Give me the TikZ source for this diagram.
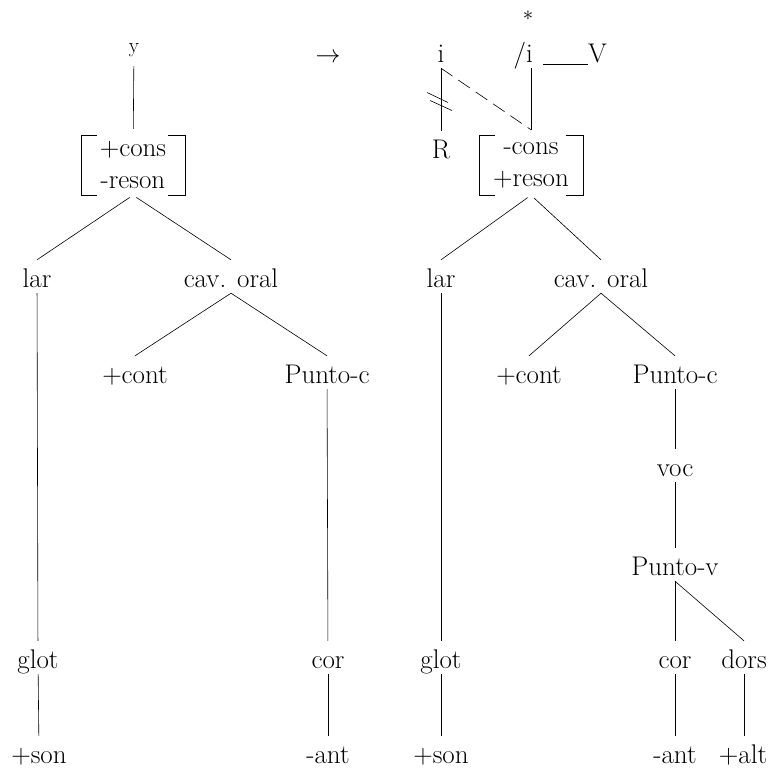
\documentclass[tikz,border=0pt]{standalone}
\usepackage{tikz}
\usetikzlibrary{positioning}

\begin{document}
\begin{tikzpicture}[
  x=1pt, y=-1pt,
  lab/.style    = {font=\fontsize{27}{32}\selectfont, inner sep=3pt, text height=24pt, text depth=3pt, anchor=base},
  ylab/.style   = {lab, font=\fontsize{21}{25}\selectfont, text height=18pt},
  feat/.style   = {font=\fontsize{27}{32}\selectfont, align=center, inner sep=0pt, minimum width=104pt, minimum height=60pt},
  branch/.style = {line width=0.6pt},
  link/.style   = {branch, dash pattern=on 14pt off 7pt},
]
\useasboundingbox (0,0) rectangle (776,769);

%% ---------------------------------------------------------------- left tree
\node[ylab] (ly) at (134,52) {y};
\node[feat] (lfeat) at (133,165) {+cons\\-reson};
\node[lab] (llar)  at (37,287)  {lar};
\node[lab] (lcav)  at (231,287) {cav. oral};
\node[lab] (lcont) at (135,383) {+cont};
\node[lab] (lpc)   at (327,383) {Punto-c};
\node[lab] (lglot) at (38,668)  {glot};
\node[lab] (lcor)  at (328,668) {cor};
\node[lab] (lson)  at (39,763)  {+son};
\node[lab] (lant)  at (328,763) {-ant};

\draw[branch, shorten <=8pt, shorten >=6pt] (ly) -- (lfeat);
\draw[branch, shorten <=4pt] (lfeat.south) -- (llar.north);
\draw[branch, shorten <=4pt] (lfeat.south) -- (lcav.north);
\draw[branch] (llar) -- (lglot);
\draw[branch] (lglot) -- (lson);
\draw[branch] (lcav.south) -- (lcont.north);
\draw[branch] (lcav.south) -- (lpc.north);
\draw[branch] (lpc) -- (lcor);
\draw[branch] (lcor) -- (lant);

%% ---------------------------------------------------------------- rule
\node[lab] (arr) at (328,62) {$\rightarrow$};
\node[font=\fontsize{22}{26}\selectfont, inner sep=0pt] (star) at (528,16) {$\ast$};

%% ---------------------------------------------------------------- right tree
\node[lab] (ri) at (441,62) {i};
\node[lab, anchor=base east] (rslash) at (536,62) {/i};
\node[lab, anchor=base west] (rV) at (540,62) {\rule[-3pt]{45pt}{0.6pt}V};
\node[lab] (rR) at (441,158) {R};
\node[feat] (rfeat) at (531,165) {-cons\\+reson};
\coordinate (rtop) at ([yshift=5pt]rfeat.north);

\node[lab] (rlar)  at (441,287) {lar};
\node[lab] (rcav)  at (601,287) {cav. oral};
\node[lab] (rcont) at (529,383) {+cont};
\node[lab] (rpc)   at (675,383) {Punto-c};
\node[lab] (rvoc)  at (675,476) {voc};
\node[lab] (rpv)   at (675,575) {Punto-v};
\node[lab] (rglot) at (441,668) {glot};
\node[lab] (rcor)  at (675,668) {cor};
\node[lab] (rdors) at (744,668) {dors};
\node[lab] (rson)  at (441,763) {+son};
\node[lab] (rant)  at (675,763) {-ant};
\node[lab] (ralt)  at (743,763) {+alt};

\draw[branch] (ri) -- coordinate[midway] (cut) (rR);
\draw[branch] ([shift={(-14,-7)}]cut) -- ([shift={(7,3)}]cut);
\draw[branch] ([shift={(-11,1)}]cut) -- ([shift={(11,11)}]cut);
\draw[link] (ri.south) -- (rtop);
\draw[branch] (rtop |- rslash.south) -- (rtop);

\draw[branch, shorten <=4pt] (rfeat.south) -- (rlar.north);
\draw[branch, shorten <=4pt] (rfeat.south) -- (rcav.north);
\draw[branch] (rlar) -- (rglot);
\draw[branch] (rglot) -- (rson);
\draw[branch] (rcav.south) -- (rcont.north);
\draw[branch] (rcav.south) -- (rpc.north);
\draw[branch] (rpc) -- (rvoc);
\draw[branch] (rvoc) -- (rpv);
\draw[branch] (rpv.south) -- (rcor.north);
\draw[branch] (rpv.south) -- (rdors.north);
\draw[branch] (rcor) -- (rant);
\draw[branch] (rdors) -- (rdors |- ralt.north);

%% ---------------------------------------------------------------- brackets
\foreach \m in {lfeat, rfeat} {
  \draw[branch] ([xshift=16pt]\m.north west) -- (\m.north west) -- (\m.south west) -- ([xshift=16pt]\m.south west);
  \draw[branch] ([xshift=-17pt]\m.north east) -- (\m.north east) -- (\m.south east) -- ([xshift=-17pt]\m.south east);
}
\end{tikzpicture}
\end{document}
